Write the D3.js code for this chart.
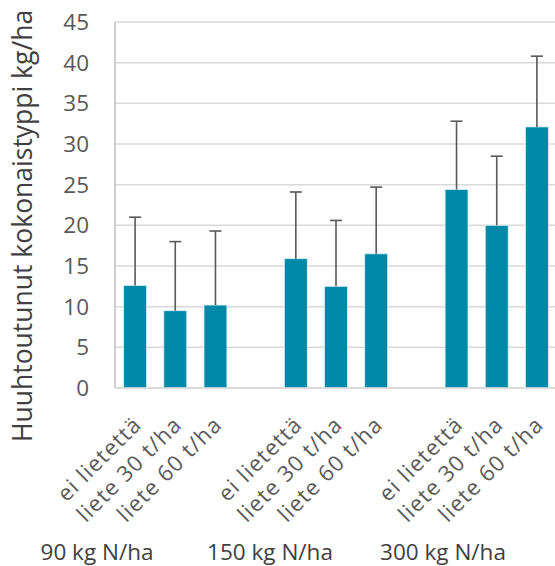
<!doctype html>
<html>
<head>
  <meta charset="utf-8">
  <style>
    body { margin: 0; background: #fff; }
    svg { font-family: "Open Sans", "Noto Sans", sans-serif; }
  </style>
  <script src="https://cdn.jsdelivr.net/npm/d3@7"></script>
</head>
<body>
  <script>
  // data
  var groups = ["90 kg N/ha", "150 kg N/ha", "300 kg N/ha"];
  var treatments = ["ei lietettä", "liete 30 t/ha", "liete 60 t/ha"];
  var values = [
    [12.6, 9.5, 10.2],
    [15.9, 12.5, 16.5],
    [24.4, 20.0, 32.1]
  ];
  var errors = [
    [8.4, 8.5, 9.1],
    [8.2, 8.1, 8.2],
    [8.4, 8.5, 8.7]
  ];
  var yTicks = [0, 5, 10, 15, 20, 25, 30, 35, 40, 45];

  var W = 555, H = 566;
  var plotLeft = 115, plotRight = 557, plotTop = 22, plotBottom = 388;

  // one flat list, with an empty slot between groups
  var rows = [];
  groups.forEach(function(g, gi) {
    treatments.forEach(function(t, ti) {
      rows.push({ slot: gi * 4 + ti, group: g, label: t, value: values[gi][ti], err: errors[gi][ti] });
    });
  });

  var svg = d3.select("body").append("svg")
      .attr("width", W)
      .attr("height", H);

  var x = d3.scaleBand()
      .domain(d3.range(11))
      .range([plotLeft, plotRight])
      .paddingInner(0.43)
      .paddingOuter(0.215);

  var y = d3.scaleLinear()
      .domain([0, 45])
      .range([plotBottom, plotTop]);

  // gridlines
  svg.append("g").selectAll("line")
      .data(yTicks)
      .enter().append("line")
      .attr("x1", plotLeft)
      .attr("x2", W)
      .attr("y1", function(d) { return y(d); })
      .attr("y2", function(d) { return y(d); })
      .attr("stroke", "#d9d9d9")
      .attr("stroke-width", 1.5);

  // left axis line
  svg.append("line")
      .attr("x1", plotLeft).attr("x2", plotLeft)
      .attr("y1", plotTop).attr("y2", plotBottom)
      .attr("stroke", "#bfbfbf")
      .attr("stroke-width", 1.5);

  // tick labels
  svg.append("g").selectAll("text")
      .data(yTicks)
      .enter().append("text")
      .attr("x", 89)
      .attr("y", function(d) { return y(d); })
      .attr("dy", "0.36em")
      .attr("text-anchor", "end")
      .attr("font-size", 22.5)
      .attr("fill", "#595959")
      .text(function(d) { return d; });

  // bars
  svg.append("g").selectAll("rect")
      .data(rows)
      .enter().append("rect")
      .attr("x", function(d) { return x(d.slot); })
      .attr("y", function(d) { return y(d.value); })
      .attr("width", x.bandwidth())
      .attr("height", function(d) { return y(0) - y(d.value); })
      .attr("fill", "#0088a8")
      .attr("stroke", "#d6eef3")
      .attr("stroke-width", 0.8);

  // error bars (plus only)
  var eb = svg.append("g").selectAll("g")
      .data(rows)
      .enter().append("g")
      .attr("stroke", "#595959")
      .attr("stroke-width", 1.6);
  eb.append("line")
      .attr("x1", function(d) { return x(d.slot) + x.bandwidth() / 2; })
      .attr("x2", function(d) { return x(d.slot) + x.bandwidth() / 2; })
      .attr("y1", function(d) { return y(d.value); })
      .attr("y2", function(d) { return y(d.value + d.err); });
  eb.append("line")
      .attr("x1", function(d) { return x(d.slot) + x.bandwidth() / 2 - 6; })
      .attr("x2", function(d) { return x(d.slot) + x.bandwidth() / 2 + 6; })
      .attr("y1", function(d) { return y(d.value + d.err); })
      .attr("y2", function(d) { return y(d.value + d.err); });

  // bottom axis line
  svg.append("line")
      .attr("x1", plotLeft).attr("x2", W)
      .attr("y1", plotBottom).attr("y2", plotBottom)
      .attr("stroke", "#d9d9d9")
      .attr("stroke-width", 1.5);

  // rotated category labels
  svg.append("g").selectAll("text")
      .data(rows)
      .enter().append("text")
      .attr("transform", function(d) {
        return "translate(" + (x(d.slot) + x.bandwidth() / 2 + 8) + "," + 426 + ") rotate(-45)";
      })
      .attr("text-anchor", "end")
      .attr("font-size", 22)
      .attr("letter-spacing", 1.2)
      .attr("fill", "#595959")
      .text(function(d) { return d.label; });

  // group labels
  var gx = d3.scalePoint().domain(groups).range([97, 443]);
  svg.append("g").selectAll("text")
      .data(groups)
      .enter().append("text")
      .attr("x", function(d) { return gx(d); })
      .attr("y", 560)
      .attr("text-anchor", "middle")
      .attr("font-size", 22.5)
      .attr("fill", "#404040")
      .text(function(d) { return d; });

  // y title
  svg.append("text")
      .attr("transform", "translate(32," + 226 + ") rotate(-90)")
      .attr("text-anchor", "middle")
      .attr("font-size", 26.5)
      .attr("fill", "#404040")
      .text("Huuhtoutunut kokonaistyppi kg/ha");
  </script>
</body>
</html>
